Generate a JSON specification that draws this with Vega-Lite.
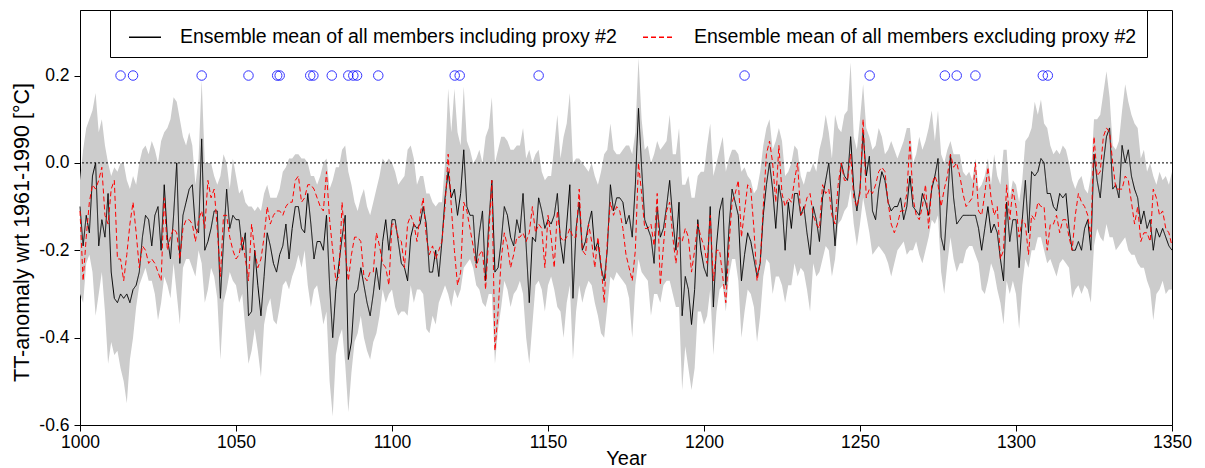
{
"$schema": "https://vega.github.io/schema/vega-lite/v6.json",
"width": 1092, "height": 415,
"autosize": {"type": "none"},
"padding": {"left": 80, "top": 10, "right": 33, "bottom": 43},
"background": "white",
"config": {
 "view": {"stroke": "black", "strokeWidth": 1},
 "font": "Liberation Sans",
 "axis": {"grid": false, "domainColor": "black", "tickColor": "black", "labelColor": "black", "titleColor": "black", "labelFont": "Liberation Sans", "titleFont": "Liberation Sans", "labelFontSize": 17.5, "titleFontSize": 19.5, "titleFontWeight": "normal", "tickSize": 6, "labelFlush": false, "labelOverlap": false},
 "legend": {"orient": "none", "legendX": 30, "legendY": 0, "direction": "horizontal", "strokeColor": "black", "fillColor": "white", "padding": 10, "symbolType": "stroke", "symbolSize": 1024, "symbolStrokeWidth": 1.3, "labelFont": "Liberation Sans", "labelFontSize": 19.5, "labelColor": "black", "labelOffset": 18, "columnPadding": 17, "labelLimit": 0, "symbolOffset": 8}
},
"datasets": {
"d": [
{"t":1000,"inc":-0.10,"exc":-0.11,"lo":-0.30,"hi":-0.04},
{"t":1001,"inc":-0.19,"exc":-0.27,"lo":-0.32,"hi":0.03},
{"t":1002,"inc":-0.12,"exc":-0.17,"lo":-0.23,"hi":0.08},
{"t":1003,"inc":-0.16,"exc":-0.09,"lo":-0.21,"hi":0.10},
{"t":1004,"inc":-0.03,"exc":-0.05,"lo":-0.25,"hi":0.12},
{"t":1005,"inc":0.00,"exc":-0.06,"lo":-0.35,"hi":0.16},
{"t":1006,"inc":-0.19,"exc":-0.04,"lo":-0.30,"hi":0.07},
{"t":1007,"inc":-0.13,"exc":-0.01,"lo":-0.25,"hi":0.10},
{"t":1008,"inc":-0.17,"exc":-0.12,"lo":-0.34,"hi":0.04},
{"t":1009,"inc":-0.07,"exc":-0.14,"lo":-0.46,"hi":0.00},
{"t":1010,"inc":-0.25,"exc":-0.06,"lo":-0.41,"hi":-0.03},
{"t":1011,"inc":-0.31,"exc":-0.04,"lo":-0.44,"hi":-0.01},
{"t":1012,"inc":-0.32,"exc":-0.22,"lo":-0.43,"hi":-0.02},
{"t":1013,"inc":-0.30,"exc":-0.22,"lo":-0.47,"hi":0.00},
{"t":1014,"inc":-0.31,"exc":-0.27,"lo":-0.50,"hi":0.00},
{"t":1015,"inc":-0.30,"exc":-0.21,"lo":-0.55,"hi":-0.04},
{"t":1016,"inc":-0.32,"exc":-0.14,"lo":-0.45,"hi":-0.06},
{"t":1017,"inc":-0.29,"exc":-0.09,"lo":-0.40,"hi":-0.03},
{"t":1018,"inc":-0.28,"exc":-0.16,"lo":-0.33,"hi":-0.05},
{"t":1019,"inc":-0.25,"exc":-0.24,"lo":-0.28,"hi":0.00},
{"t":1020,"inc":-0.17,"exc":-0.19,"lo":-0.26,"hi":0.03},
{"t":1021,"inc":-0.12,"exc":-0.20,"lo":-0.24,"hi":0.04},
{"t":1022,"inc":-0.13,"exc":-0.23,"lo":-0.27,"hi":0.02},
{"t":1023,"inc":-0.19,"exc":-0.22,"lo":-0.27,"hi":0.05},
{"t":1024,"inc":-0.12,"exc":-0.23,"lo":-0.30,"hi":0.03},
{"t":1025,"inc":-0.10,"exc":-0.25,"lo":-0.36,"hi":0.00},
{"t":1026,"inc":-0.20,"exc":-0.27,"lo":-0.32,"hi":0.05},
{"t":1027,"inc":-0.05,"exc":-0.08,"lo":-0.26,"hi":0.07},
{"t":1028,"inc":-0.17,"exc":-0.20,"lo":-0.28,"hi":0.08},
{"t":1029,"inc":-0.22,"exc":-0.17,"lo":-0.31,"hi":0.10},
{"t":1030,"inc":-0.12,"exc":-0.15,"lo":-0.23,"hi":0.15},
{"t":1031,"inc":0.00,"exc":-0.16,"lo":-0.30,"hi":0.14},
{"t":1032,"inc":-0.23,"exc":-0.22,"lo":-0.37,"hi":0.10},
{"t":1033,"inc":-0.12,"exc":-0.15,"lo":-0.24,"hi":0.06},
{"t":1034,"inc":-0.09,"exc":-0.13,"lo":-0.22,"hi":0.04},
{"t":1035,"inc":-0.06,"exc":-0.13,"lo":-0.22,"hi":0.07},
{"t":1036,"inc":-0.05,"exc":-0.14,"lo":-0.24,"hi":0.04},
{"t":1037,"inc":-0.15,"exc":-0.18,"lo":-0.26,"hi":-0.05},
{"t":1038,"inc":-0.16,"exc":-0.13,"lo":-0.20,"hi":0.01},
{"t":1039,"inc":0.055,"exc":-0.11,"lo":-0.23,"hi":0.19},
{"t":1040,"inc":-0.20,"exc":-0.15,"lo":-0.32,"hi":0.00},
{"t":1041,"inc":-0.18,"exc":-0.04,"lo":-0.29,"hi":0.00},
{"t":1042,"inc":-0.15,"exc":-0.08,"lo":-0.24,"hi":0.00},
{"t":1043,"inc":-0.11,"exc":-0.06,"lo":-0.26,"hi":-0.03},
{"t":1044,"inc":-0.11,"exc":-0.15,"lo":-0.31,"hi":-0.05},
{"t":1045,"inc":-0.31,"exc":-0.26,"lo":-0.45,"hi":-0.03},
{"t":1046,"inc":-0.18,"exc":-0.12,"lo":-0.32,"hi":0.02},
{"t":1047,"inc":-0.06,"exc":-0.12,"lo":-0.29,"hi":0.00},
{"t":1048,"inc":-0.15,"exc":-0.17,"lo":-0.25,"hi":-0.06},
{"t":1049,"inc":-0.12,"exc":-0.20,"lo":-0.27,"hi":0.01},
{"t":1050,"inc":-0.13,"exc":-0.22,"lo":-0.28,"hi":-0.03},
{"t":1051,"inc":-0.13,"exc":-0.21,"lo":-0.32,"hi":-0.07},
{"t":1052,"inc":-0.20,"exc":-0.17,"lo":-0.30,"hi":-0.06},
{"t":1053,"inc":-0.16,"exc":-0.22,"lo":-0.38,"hi":-0.09},
{"t":1054,"inc":-0.35,"exc":-0.27,"lo":-0.46,"hi":-0.10},
{"t":1055,"inc":-0.34,"exc":-0.14,"lo":-0.43,"hi":-0.10},
{"t":1056,"inc":-0.20,"exc":-0.20,"lo":-0.38,"hi":-0.11},
{"t":1057,"inc":-0.28,"exc":-0.24,"lo":-0.43,"hi":-0.10},
{"t":1058,"inc":-0.35,"exc":-0.22,"lo":-0.49,"hi":-0.11},
{"t":1059,"inc":-0.26,"exc":-0.17,"lo":-0.37,"hi":-0.07},
{"t":1060,"inc":-0.16,"exc":-0.10,"lo":-0.33,"hi":-0.05},
{"t":1061,"inc":-0.19,"exc":-0.14,"lo":-0.31,"hi":-0.08},
{"t":1062,"inc":-0.23,"exc":-0.12,"lo":-0.36,"hi":-0.08},
{"t":1063,"inc":-0.25,"exc":-0.11,"lo":-0.37,"hi":-0.08},
{"t":1064,"inc":-0.21,"exc":-0.11,"lo":-0.33,"hi":-0.06},
{"t":1065,"inc":-0.19,"exc":-0.12,"lo":-0.28,"hi":-0.02},
{"t":1066,"inc":-0.14,"exc":-0.10,"lo":-0.27,"hi":-0.01},
{"t":1067,"inc":-0.22,"exc":-0.09,"lo":-0.29,"hi":0.01},
{"t":1068,"inc":-0.15,"exc":-0.09,"lo":-0.26,"hi":0.01},
{"t":1069,"inc":-0.10,"exc":-0.04,"lo":-0.24,"hi":0.02},
{"t":1070,"inc":-0.10,"exc":-0.03,"lo":-0.21,"hi":0.02},
{"t":1071,"inc":-0.15,"exc":-0.09,"lo":-0.24,"hi":0.01},
{"t":1072,"inc":-0.16,"exc":-0.08,"lo":-0.20,"hi":0.01},
{"t":1073,"inc":-0.07,"exc":-0.05,"lo":-0.28,"hi":0.00},
{"t":1074,"inc":-0.14,"exc":-0.05,"lo":-0.33,"hi":-0.03},
{"t":1075,"inc":-0.22,"exc":-0.06,"lo":-0.29,"hi":-0.03},
{"t":1076,"inc":-0.18,"exc":-0.08,"lo":-0.28,"hi":-0.05},
{"t":1077,"inc":-0.18,"exc":-0.10,"lo":-0.32,"hi":-0.03},
{"t":1078,"inc":-0.20,"exc":-0.11,"lo":-0.37,"hi":0.00},
{"t":1079,"inc":-0.12,"exc":-0.02,"lo":-0.34,"hi":0.01},
{"t":1080,"inc":-0.28,"exc":-0.13,"lo":-0.50,"hi":-0.06},
{"t":1081,"inc":-0.40,"exc":-0.20,"lo":-0.58,"hi":-0.04},
{"t":1082,"inc":-0.29,"exc":-0.27,"lo":-0.44,"hi":-0.01},
{"t":1083,"inc":-0.23,"exc":-0.26,"lo":-0.40,"hi":-0.01},
{"t":1084,"inc":-0.17,"exc":-0.09,"lo":-0.38,"hi":0.03},
{"t":1085,"inc":-0.12,"exc":-0.20,"lo":-0.46,"hi":0.04},
{"t":1086,"inc":-0.45,"exc":-0.27,"lo":-0.57,"hi":-0.02},
{"t":1087,"inc":-0.41,"exc":-0.21,"lo":-0.48,"hi":-0.05},
{"t":1088,"inc":-0.30,"exc":-0.17,"lo":-0.41,"hi":-0.09},
{"t":1089,"inc":-0.29,"exc":-0.17,"lo":-0.39,"hi":-0.11},
{"t":1090,"inc":-0.24,"exc":-0.18,"lo":-0.35,"hi":-0.08},
{"t":1091,"inc":-0.28,"exc":-0.26,"lo":-0.40,"hi":-0.06},
{"t":1092,"inc":-0.32,"exc":-0.27,"lo":-0.43,"hi":-0.10},
{"t":1093,"inc":-0.35,"exc":-0.25,"lo":-0.45,"hi":-0.12},
{"t":1094,"inc":-0.30,"exc":-0.25,"lo":-0.41,"hi":-0.09},
{"t":1095,"inc":-0.24,"exc":-0.16,"lo":-0.39,"hi":-0.06},
{"t":1096,"inc":-0.29,"exc":-0.19,"lo":-0.35,"hi":-0.03},
{"t":1097,"inc":-0.18,"exc":-0.23,"lo":-0.29,"hi":0.01},
{"t":1098,"inc":-0.13,"exc":-0.24,"lo":-0.32,"hi":0.00},
{"t":1099,"inc":-0.20,"exc":-0.28,"lo":-0.30,"hi":0.01},
{"t":1100,"inc":-0.13,"exc":-0.14,"lo":-0.29,"hi":0.00},
{"t":1101,"inc":-0.13,"exc":-0.14,"lo":-0.33,"hi":-0.02},
{"t":1102,"inc":-0.18,"exc":-0.17,"lo":-0.35,"hi":-0.05},
{"t":1103,"inc":-0.23,"exc":-0.18,"lo":-0.34,"hi":-0.04},
{"t":1104,"inc":-0.24,"exc":-0.24,"lo":-0.34,"hi":-0.03},
{"t":1105,"inc":-0.27,"exc":-0.14,"lo":-0.35,"hi":0.03},
{"t":1106,"inc":-0.17,"exc":-0.12,"lo":-0.28,"hi":0.04},
{"t":1107,"inc":-0.14,"exc":-0.14,"lo":-0.32,"hi":0.01},
{"t":1108,"inc":-0.15,"exc":-0.18,"lo":-0.29,"hi":-0.05},
{"t":1109,"inc":-0.14,"exc":-0.12,"lo":-0.29,"hi":-0.03},
{"t":1110,"inc":-0.10,"exc":-0.08,"lo":-0.30,"hi":-0.03},
{"t":1111,"inc":-0.14,"exc":-0.17,"lo":-0.38,"hi":-0.07},
{"t":1112,"inc":-0.25,"exc":-0.21,"lo":-0.39,"hi":-0.07},
{"t":1113,"inc":-0.25,"exc":-0.19,"lo":-0.35,"hi":-0.09},
{"t":1114,"inc":-0.20,"exc":-0.22,"lo":-0.37,"hi":-0.10},
{"t":1115,"inc":-0.26,"exc":-0.20,"lo":-0.32,"hi":-0.09},
{"t":1116,"inc":-0.18,"exc":-0.18,"lo":-0.30,"hi":-0.09},
{"t":1117,"inc":-0.08,"exc":-0.10,"lo":-0.28,"hi":0.00},
{"t":1118,"inc":-0.02,"exc":0.02,"lo":-0.30,"hi":0.17},
{"t":1119,"inc":-0.08,"exc":-0.10,"lo":-0.33,"hi":0.07},
{"t":1120,"inc":-0.06,"exc":-0.20,"lo":-0.29,"hi":0.17},
{"t":1121,"inc":-0.12,"exc":-0.28,"lo":-0.31,"hi":0.07},
{"t":1122,"inc":-0.07,"exc":-0.25,"lo":-0.29,"hi":0.04},
{"t":1123,"inc":0.03,"exc":-0.09,"lo":-0.24,"hi":0.175},
{"t":1124,"inc":-0.10,"exc":-0.11,"lo":-0.23,"hi":0.05},
{"t":1125,"inc":-0.12,"exc":-0.15,"lo":-0.22,"hi":0.03},
{"t":1126,"inc":-0.12,"exc":-0.19,"lo":-0.24,"hi":0.00},
{"t":1127,"inc":-0.23,"exc":-0.24,"lo":-0.28,"hi":0.01},
{"t":1128,"inc":-0.16,"exc":-0.21,"lo":-0.29,"hi":0.03},
{"t":1129,"inc":-0.11,"exc":-0.20,"lo":-0.32,"hi":0.00},
{"t":1130,"inc":-0.27,"exc":-0.29,"lo":-0.33,"hi":0.06},
{"t":1131,"inc":-0.14,"exc":-0.17,"lo":-0.30,"hi":0.08},
{"t":1132,"inc":-0.04,"exc":-0.04,"lo":-0.30,"hi":0.15},
{"t":1133,"inc":-0.25,"exc":-0.43,"lo":-0.46,"hi":0.00},
{"t":1134,"inc":-0.24,"exc":-0.34,"lo":-0.38,"hi":0.03},
{"t":1135,"inc":-0.18,"exc":-0.22,"lo":-0.33,"hi":0.06},
{"t":1136,"inc":-0.10,"exc":-0.16,"lo":-0.27,"hi":0.06},
{"t":1137,"inc":-0.12,"exc":-0.19,"lo":-0.29,"hi":0.05},
{"t":1138,"inc":-0.17,"exc":-0.24,"lo":-0.33,"hi":0.03},
{"t":1139,"inc":-0.19,"exc":-0.21,"lo":-0.30,"hi":0.03},
{"t":1140,"inc":-0.13,"exc":-0.17,"lo":-0.29,"hi":0.04},
{"t":1141,"inc":-0.16,"exc":-0.17,"lo":-0.27,"hi":0.04},
{"t":1142,"inc":-0.07,"exc":-0.16,"lo":-0.30,"hi":0.08},
{"t":1143,"inc":-0.19,"exc":-0.18,"lo":-0.40,"hi":0.01},
{"t":1144,"inc":-0.32,"exc":-0.16,"lo":-0.46,"hi":0.03},
{"t":1145,"inc":-0.17,"exc":-0.10,"lo":-0.37,"hi":0.00},
{"t":1146,"inc":-0.18,"exc":-0.16,"lo":-0.28,"hi":0.02},
{"t":1147,"inc":-0.08,"exc":-0.14,"lo":-0.27,"hi":0.03},
{"t":1148,"inc":-0.11,"exc":-0.15,"lo":-0.29,"hi":-0.02},
{"t":1149,"inc":-0.15,"exc":-0.24,"lo":-0.34,"hi":-0.04},
{"t":1150,"inc":-0.13,"exc":-0.12,"lo":-0.28,"hi":-0.03},
{"t":1151,"inc":-0.14,"exc":-0.17,"lo":-0.26,"hi":-0.03},
{"t":1152,"inc":-0.12,"exc":-0.24,"lo":-0.29,"hi":0.04},
{"t":1153,"inc":-0.07,"exc":-0.11,"lo":-0.33,"hi":0.11},
{"t":1154,"inc":-0.18,"exc":-0.17,"lo":-0.34,"hi":0.01},
{"t":1155,"inc":-0.23,"exc":-0.18,"lo":-0.40,"hi":0.06},
{"t":1156,"inc":-0.14,"exc":-0.17,"lo":-0.32,"hi":0.09},
{"t":1157,"inc":-0.05,"exc":-0.15,"lo":-0.28,"hi":0.16},
{"t":1158,"inc":-0.31,"exc":-0.17,"lo":-0.45,"hi":0.00},
{"t":1159,"inc":-0.15,"exc":-0.17,"lo":-0.34,"hi":0.01},
{"t":1160,"inc":-0.09,"exc":-0.06,"lo":-0.28,"hi":0.01},
{"t":1161,"inc":-0.20,"exc":-0.20,"lo":-0.32,"hi":0.00},
{"t":1162,"inc":-0.18,"exc":-0.21,"lo":-0.29,"hi":-0.01},
{"t":1163,"inc":-0.14,"exc":-0.14,"lo":-0.27,"hi":-0.02},
{"t":1164,"inc":-0.11,"exc":-0.18,"lo":-0.28,"hi":0.00},
{"t":1165,"inc":-0.20,"exc":-0.24,"lo":-0.32,"hi":-0.03},
{"t":1166,"inc":-0.18,"exc":-0.17,"lo":-0.35,"hi":-0.05},
{"t":1167,"inc":-0.24,"exc":-0.23,"lo":-0.39,"hi":-0.02},
{"t":1168,"inc":-0.27,"exc":-0.32,"lo":-0.40,"hi":0.02},
{"t":1169,"inc":-0.20,"exc":-0.18,"lo":-0.33,"hi":0.03},
{"t":1170,"inc":-0.05,"exc":-0.09,"lo":-0.26,"hi":0.09},
{"t":1171,"inc":-0.11,"exc":-0.12,"lo":-0.27,"hi":0.03},
{"t":1172,"inc":-0.08,"exc":-0.10,"lo":-0.25,"hi":0.02},
{"t":1173,"inc":-0.08,"exc":-0.11,"lo":-0.26,"hi":0.02},
{"t":1174,"inc":-0.09,"exc":-0.15,"lo":-0.27,"hi":0.03},
{"t":1175,"inc":-0.14,"exc":-0.21,"lo":-0.28,"hi":0.04},
{"t":1176,"inc":-0.12,"exc":-0.24,"lo":-0.31,"hi":0.04},
{"t":1177,"inc":-0.17,"exc":-0.27,"lo":-0.40,"hi":0.02},
{"t":1178,"inc":-0.05,"exc":-0.20,"lo":-0.28,"hi":0.07},
{"t":1179,"inc":0.125,"exc":0.00,"lo":-0.22,"hi":0.24},
{"t":1180,"inc":-0.01,"exc":-0.07,"lo":-0.25,"hi":0.10},
{"t":1181,"inc":-0.13,"exc":-0.15,"lo":-0.26,"hi":0.03},
{"t":1182,"inc":-0.15,"exc":-0.15,"lo":-0.27,"hi":0.04},
{"t":1183,"inc":-0.17,"exc":-0.14,"lo":-0.35,"hi":0.00},
{"t":1184,"inc":-0.23,"exc":-0.19,"lo":-0.30,"hi":0.02},
{"t":1185,"inc":-0.10,"exc":-0.07,"lo":-0.30,"hi":0.05},
{"t":1186,"inc":-0.17,"exc":-0.28,"lo":-0.32,"hi":0.03},
{"t":1187,"inc":-0.15,"exc":-0.19,"lo":-0.28,"hi":0.04},
{"t":1188,"inc":-0.10,"exc":-0.11,"lo":-0.27,"hi":0.05},
{"t":1189,"inc":-0.04,"exc":-0.09,"lo":-0.27,"hi":0.11},
{"t":1190,"inc":-0.13,"exc":-0.17,"lo":-0.30,"hi":0.02},
{"t":1191,"inc":-0.20,"exc":-0.23,"lo":-0.33,"hi":0.02},
{"t":1192,"inc":-0.09,"exc":-0.17,"lo":-0.33,"hi":0.08},
{"t":1193,"inc":-0.35,"exc":-0.18,"lo":-0.52,"hi":-0.05},
{"t":1194,"inc":-0.26,"exc":-0.15,"lo":-0.42,"hi":-0.05},
{"t":1195,"inc":-0.29,"exc":-0.17,"lo":-0.47,"hi":-0.03},
{"t":1196,"inc":-0.37,"exc":-0.25,"lo":-0.52,"hi":-0.08},
{"t":1197,"inc":-0.29,"exc":-0.20,"lo":-0.47,"hi":-0.08},
{"t":1198,"inc":-0.13,"exc":-0.14,"lo":-0.34,"hi":-0.03},
{"t":1199,"inc":-0.20,"exc":-0.17,"lo":-0.34,"hi":-0.02},
{"t":1200,"inc":-0.24,"exc":-0.19,"lo":-0.37,"hi":-0.02},
{"t":1201,"inc":-0.26,"exc":-0.23,"lo":-0.35,"hi":0.04},
{"t":1202,"inc":-0.10,"exc":-0.12,"lo":-0.29,"hi":0.09},
{"t":1203,"inc":-0.33,"exc":-0.27,"lo":-0.44,"hi":-0.03},
{"t":1204,"inc":-0.19,"exc":-0.20,"lo":-0.34,"hi":0.00},
{"t":1205,"inc":-0.11,"exc":-0.20,"lo":-0.29,"hi":0.03},
{"t":1206,"inc":-0.08,"exc":-0.26,"lo":-0.28,"hi":0.06},
{"t":1207,"inc":-0.28,"exc":-0.32,"lo":-0.34,"hi":-0.02},
{"t":1208,"inc":-0.15,"exc":-0.19,"lo":-0.26,"hi":0.01},
{"t":1209,"inc":-0.06,"exc":-0.09,"lo":-0.22,"hi":0.03},
{"t":1210,"inc":-0.09,"exc":-0.07,"lo":-0.22,"hi":0.03},
{"t":1211,"inc":-0.12,"exc":-0.04,"lo":-0.27,"hi":0.02},
{"t":1212,"inc":-0.27,"exc":-0.17,"lo":-0.40,"hi":-0.02},
{"t":1213,"inc":-0.21,"exc":-0.11,"lo":-0.34,"hi":-0.01},
{"t":1214,"inc":-0.16,"exc":-0.05,"lo":-0.29,"hi":-0.03},
{"t":1215,"inc":-0.18,"exc":-0.06,"lo":-0.30,"hi":-0.04},
{"t":1216,"inc":-0.22,"exc":-0.15,"lo":-0.33,"hi":-0.07},
{"t":1217,"inc":-0.26,"exc":-0.27,"lo":-0.41,"hi":-0.06},
{"t":1218,"inc":-0.23,"exc":-0.23,"lo":-0.35,"hi":-0.02},
{"t":1219,"inc":-0.12,"exc":-0.10,"lo":-0.26,"hi":0.04},
{"t":1220,"inc":-0.05,"exc":0.02,"lo":-0.22,"hi":0.08},
{"t":1221,"inc":0.00,"exc":0.05,"lo":-0.23,"hi":0.10},
{"t":1222,"inc":-0.06,"exc":0.00,"lo":-0.30,"hi":0.03},
{"t":1223,"inc":-0.15,"exc":-0.09,"lo":-0.26,"hi":0.05},
{"t":1224,"inc":-0.05,"exc":0.04,"lo":-0.26,"hi":0.08},
{"t":1225,"inc":-0.09,"exc":-0.07,"lo":-0.28,"hi":0.05},
{"t":1226,"inc":-0.20,"exc":-0.10,"lo":-0.32,"hi":-0.03},
{"t":1227,"inc":-0.09,"exc":-0.08,"lo":-0.28,"hi":-0.02},
{"t":1228,"inc":-0.15,"exc":-0.09,"lo":-0.28,"hi":0.00},
{"t":1229,"inc":-0.07,"exc":-0.04,"lo":-0.23,"hi":0.04},
{"t":1230,"inc":-0.07,"exc":0.00,"lo":-0.26,"hi":0.03},
{"t":1231,"inc":-0.12,"exc":-0.12,"lo":-0.24,"hi":-0.03},
{"t":1232,"inc":-0.10,"exc":-0.11,"lo":-0.25,"hi":-0.05},
{"t":1233,"inc":-0.16,"exc":-0.08,"lo":-0.29,"hi":-0.02},
{"t":1234,"inc":-0.21,"exc":-0.07,"lo":-0.34,"hi":-0.02},
{"t":1235,"inc":-0.10,"exc":-0.12,"lo":-0.23,"hi":0.00},
{"t":1236,"inc":-0.13,"exc":-0.14,"lo":-0.26,"hi":-0.02},
{"t":1237,"inc":-0.18,"exc":-0.15,"lo":-0.25,"hi":0.03},
{"t":1238,"inc":-0.08,"exc":-0.05,"lo":-0.22,"hi":0.06},
{"t":1239,"inc":-0.04,"exc":-0.07,"lo":-0.19,"hi":0.11},
{"t":1240,"inc":0.00,"exc":-0.06,"lo":-0.20,"hi":0.07},
{"t":1241,"inc":-0.09,"exc":-0.12,"lo":-0.26,"hi":0.01},
{"t":1242,"inc":-0.19,"exc":-0.14,"lo":-0.22,"hi":0.11},
{"t":1243,"inc":-0.10,"exc":-0.05,"lo":-0.14,"hi":0.08},
{"t":1244,"inc":0.00,"exc":0.00,"lo":-0.13,"hi":0.07},
{"t":1245,"inc":-0.03,"exc":-0.04,"lo":-0.11,"hi":0.11},
{"t":1246,"inc":-0.04,"exc":-0.04,"lo":-0.10,"hi":0.12},
{"t":1247,"inc":0.06,"exc":0.02,"lo":-0.06,"hi":0.23},
{"t":1248,"inc":-0.06,"exc":-0.08,"lo":-0.14,"hi":0.06},
{"t":1249,"inc":-0.11,"exc":-0.10,"lo":-0.19,"hi":0.03},
{"t":1250,"inc":-0.06,"exc":-0.07,"lo":-0.14,"hi":0.10},
{"t":1251,"inc":0.07,"exc":0.10,"lo":-0.08,"hi":0.18},
{"t":1252,"inc":-0.03,"exc":-0.08,"lo":-0.12,"hi":0.08},
{"t":1253,"inc":0.015,"exc":-0.06,"lo":-0.16,"hi":0.06},
{"t":1254,"inc":-0.11,"exc":-0.07,"lo":-0.21,"hi":0.03},
{"t":1255,"inc":-0.13,"exc":-0.05,"lo":-0.20,"hi":0.04},
{"t":1256,"inc":-0.06,"exc":-0.02,"lo":-0.19,"hi":0.08},
{"t":1257,"inc":-0.02,"exc":-0.01,"lo":-0.20,"hi":0.06},
{"t":1258,"inc":-0.04,"exc":-0.02,"lo":-0.21,"hi":0.02},
{"t":1259,"inc":-0.09,"exc":-0.09,"lo":-0.23,"hi":0.03},
{"t":1260,"inc":-0.11,"exc":-0.14,"lo":-0.26,"hi":0.05},
{"t":1261,"inc":-0.10,"exc":-0.16,"lo":-0.23,"hi":0.03},
{"t":1262,"inc":-0.10,"exc":-0.14,"lo":-0.20,"hi":0.01},
{"t":1263,"inc":-0.08,"exc":-0.11,"lo":-0.19,"hi":0.03},
{"t":1264,"inc":-0.13,"exc":-0.11,"lo":-0.18,"hi":0.05},
{"t":1265,"inc":-0.10,"exc":-0.07,"lo":-0.21,"hi":0.08},
{"t":1266,"inc":-0.03,"exc":0.05,"lo":-0.20,"hi":0.08},
{"t":1267,"inc":-0.10,"exc":-0.08,"lo":-0.20,"hi":0.00},
{"t":1268,"inc":-0.11,"exc":-0.12,"lo":-0.18,"hi":0.02},
{"t":1269,"inc":-0.12,"exc":-0.13,"lo":-0.21,"hi":0.06},
{"t":1270,"inc":-0.07,"exc":-0.10,"lo":-0.23,"hi":0.03},
{"t":1271,"inc":-0.09,"exc":-0.05,"lo":-0.20,"hi":0.05},
{"t":1272,"inc":-0.12,"exc":-0.15,"lo":-0.17,"hi":0.08},
{"t":1273,"inc":-0.06,"exc":-0.05,"lo":-0.13,"hi":0.12},
{"t":1274,"inc":-0.03,"exc":-0.03,"lo":-0.14,"hi":0.05},
{"t":1275,"inc":0.01,"exc":-0.05,"lo":-0.12,"hi":0.12},
{"t":1276,"inc":-0.17,"exc":-0.10,"lo":-0.25,"hi":0.02},
{"t":1277,"inc":-0.20,"exc":-0.06,"lo":-0.30,"hi":0.00},
{"t":1278,"inc":-0.09,"exc":-0.03,"lo":-0.23,"hi":0.03},
{"t":1279,"inc":0.02,"exc":0.02,"lo":-0.17,"hi":0.05},
{"t":1280,"inc":-0.08,"exc":-0.01,"lo":-0.22,"hi":0.02},
{"t":1281,"inc":-0.14,"exc":0.00,"lo":-0.25,"hi":0.02},
{"t":1282,"inc":-0.13,"exc":-0.03,"lo":-0.23,"hi":0.02},
{"t":1283,"inc":-0.12,"exc":-0.07,"lo":-0.23,"hi":-0.02},
{"t":1284,"inc":-0.12,"exc":-0.10,"lo":-0.20,"hi":-0.03},
{"t":1285,"inc":-0.12,"exc":-0.09,"lo":-0.19,"hi":-0.02},
{"t":1286,"inc":-0.12,"exc":-0.08,"lo":-0.19,"hi":-0.04},
{"t":1287,"inc":-0.12,"exc":0.00,"lo":-0.21,"hi":0.01},
{"t":1288,"inc":-0.15,"exc":-0.11,"lo":-0.23,"hi":-0.06},
{"t":1289,"inc":-0.20,"exc":-0.12,"lo":-0.29,"hi":-0.05},
{"t":1290,"inc":-0.15,"exc":-0.07,"lo":-0.30,"hi":-0.03},
{"t":1291,"inc":-0.10,"exc":-0.01,"lo":-0.27,"hi":0.01},
{"t":1292,"inc":-0.16,"exc":-0.08,"lo":-0.23,"hi":-0.05},
{"t":1293,"inc":-0.14,"exc":-0.12,"lo":-0.25,"hi":0.02},
{"t":1294,"inc":-0.16,"exc":-0.10,"lo":-0.29,"hi":-0.03},
{"t":1295,"inc":-0.22,"exc":-0.22,"lo":-0.32,"hi":-0.05},
{"t":1296,"inc":-0.27,"exc":-0.20,"lo":-0.37,"hi":0.03},
{"t":1297,"inc":-0.09,"exc":-0.05,"lo":-0.27,"hi":0.03},
{"t":1298,"inc":-0.18,"exc":-0.13,"lo":-0.30,"hi":-0.08},
{"t":1299,"inc":-0.13,"exc":-0.06,"lo":-0.27,"hi":-0.04},
{"t":1300,"inc":-0.13,"exc":-0.10,"lo":-0.30,"hi":-0.05},
{"t":1301,"inc":-0.24,"exc":-0.17,"lo":-0.38,"hi":-0.09},
{"t":1302,"inc":-0.13,"exc":-0.13,"lo":-0.28,"hi":-0.04},
{"t":1303,"inc":-0.04,"exc":-0.14,"lo":-0.22,"hi":0.05},
{"t":1304,"inc":-0.16,"exc":-0.21,"lo":-0.24,"hi":0.06},
{"t":1305,"inc":-0.02,"exc":-0.12,"lo":-0.20,"hi":0.08},
{"t":1306,"inc":-0.03,"exc":-0.13,"lo":-0.20,"hi":0.14},
{"t":1307,"inc":-0.02,"exc":-0.09,"lo":-0.17,"hi":0.11},
{"t":1308,"inc":0.01,"exc":-0.10,"lo":-0.17,"hi":0.145},
{"t":1309,"inc":0.00,"exc":-0.10,"lo":-0.20,"hi":0.09},
{"t":1310,"inc":-0.07,"exc":-0.20,"lo":-0.23,"hi":0.08},
{"t":1311,"inc":-0.07,"exc":-0.14,"lo":-0.22,"hi":0.04},
{"t":1312,"inc":-0.10,"exc":-0.14,"lo":-0.24,"hi":0.02},
{"t":1313,"inc":-0.11,"exc":-0.12,"lo":-0.26,"hi":0.03},
{"t":1314,"inc":-0.07,"exc":-0.16,"lo":-0.23,"hi":0.02},
{"t":1315,"inc":-0.08,"exc":-0.13,"lo":-0.22,"hi":0.04},
{"t":1316,"inc":-0.07,"exc":-0.13,"lo":-0.23,"hi":0.03},
{"t":1317,"inc":-0.15,"exc":-0.17,"lo":-0.24,"hi":0.00},
{"t":1318,"inc":-0.20,"exc":-0.20,"lo":-0.31,"hi":-0.04},
{"t":1319,"inc":-0.20,"exc":-0.12,"lo":-0.29,"hi":-0.06},
{"t":1320,"inc":-0.18,"exc":-0.07,"lo":-0.28,"hi":-0.04},
{"t":1321,"inc":-0.20,"exc":-0.09,"lo":-0.30,"hi":-0.03},
{"t":1322,"inc":-0.15,"exc":-0.10,"lo":-0.28,"hi":-0.06},
{"t":1323,"inc":-0.13,"exc":-0.12,"lo":-0.29,"hi":-0.07},
{"t":1324,"inc":-0.20,"exc":-0.17,"lo":-0.32,"hi":-0.03},
{"t":1325,"inc":0.02,"exc":0.06,"lo":-0.19,"hi":0.10},
{"t":1326,"inc":-0.04,"exc":-0.03,"lo":-0.15,"hi":0.10},
{"t":1327,"inc":-0.08,"exc":-0.02,"lo":-0.17,"hi":0.11},
{"t":1328,"inc":0.00,"exc":0.06,"lo":-0.18,"hi":0.16},
{"t":1329,"inc":0.06,"exc":0.08,"lo":-0.14,"hi":0.21},
{"t":1330,"inc":0.08,"exc":0.07,"lo":-0.17,"hi":0.15},
{"t":1331,"inc":-0.06,"exc":0.00,"lo":-0.17,"hi":0.04},
{"t":1332,"inc":-0.05,"exc":-0.06,"lo":-0.20,"hi":0.03},
{"t":1333,"inc":-0.08,"exc":-0.06,"lo":-0.19,"hi":0.05},
{"t":1334,"inc":0.04,"exc":-0.06,"lo":-0.18,"hi":0.12},
{"t":1335,"inc":0.00,"exc":-0.03,"lo":-0.17,"hi":0.18},
{"t":1336,"inc":0.03,"exc":-0.04,"lo":-0.20,"hi":0.14},
{"t":1337,"inc":-0.03,"exc":-0.09,"lo":-0.21,"hi":0.11},
{"t":1338,"inc":-0.06,"exc":-0.14,"lo":-0.21,"hi":0.09},
{"t":1339,"inc":-0.08,"exc":-0.10,"lo":-0.23,"hi":0.08},
{"t":1340,"inc":-0.14,"exc":-0.18,"lo":-0.24,"hi":0.01},
{"t":1341,"inc":-0.11,"exc":-0.16,"lo":-0.24,"hi":0.03},
{"t":1342,"inc":-0.15,"exc":-0.16,"lo":-0.27,"hi":-0.02},
{"t":1343,"inc":-0.13,"exc":-0.18,"lo":-0.29,"hi":0.00},
{"t":1344,"inc":-0.20,"exc":-0.06,"lo":-0.36,"hi":-0.03},
{"t":1345,"inc":-0.15,"exc":-0.08,"lo":-0.30,"hi":-0.05},
{"t":1346,"inc":-0.17,"exc":-0.12,"lo":-0.29,"hi":-0.02},
{"t":1347,"inc":-0.15,"exc":-0.11,"lo":-0.27,"hi":-0.04},
{"t":1348,"inc":-0.17,"exc":-0.15,"lo":-0.30,"hi":-0.03},
{"t":1349,"inc":-0.19,"exc":-0.16,"lo":-0.29,"hi":-0.05},
{"t":1350,"inc":-0.20,"exc":-0.19,"lo":-0.29,"hi":-0.02}
],
"p": [
{"t":1013,"v":0.2},{"t":1017,"v":0.2},{"t":1039,"v":0.2},{"t":1054,"v":0.2},{"t":1063.2,"v":0.2},{"t":1064,"v":0.2},{"t":1073.8,"v":0.2},{"t":1074.8,"v":0.2},{"t":1080.7,"v":0.2},{"t":1086,"v":0.2},{"t":1087.6,"v":0.2},{"t":1088.8,"v":0.2},{"t":1095.6,"v":0.2},{"t":1120.1,"v":0.2},{"t":1121.7,"v":0.2},{"t":1147,"v":0.2},{"t":1213,"v":0.2},{"t":1253.1,"v":0.2},{"t":1277.2,"v":0.2},{"t":1281,"v":0.2},{"t":1287,"v":0.2},{"t":1308.6,"v":0.2},{"t":1310.2,"v":0.2}
],
"z": [{"v": 0}]
},
"layer": [
{
 "data": {"name": "d"},
 "mark": {"type": "area", "color": "#cccccc", "opacity": 1, "interpolate": "linear"},
 "encoding": {
  "x": {"field": "t", "type": "quantitative", "scale": {"domain": [1000, 1350], "nice": false, "zero": false},
   "axis": {"title": "Year", "values": [1000,1050,1100,1150,1200,1250,1300,1350], "format": "d", "labelPadding": 2, "titlePadding": -2, "titleFontSize": 20}},
  "y": {"field": "lo", "type": "quantitative", "scale": {"domain": [-0.6, 0.35], "nice": false, "zero": false},
   "axis": {"title": "TT-anomaly wrt 1961-1990 [°C]", "values": [-0.6,-0.4,-0.2,0,0.2], "labelExpr": "replace(format(datum.value, '.1f'), '\u2212', '-')", "labelPadding": 5, "titlePadding": 5, "titleFontSize": 21.5, "titleY": 222}},
  "y2": {"field": "hi"}
 }
},
{
 "data": {"name": "z"},
 "mark": {"type": "rule", "color": "black", "strokeWidth": 1, "strokeDash": [2, 2]},
 "encoding": {"y": {"field": "v", "type": "quantitative"}}
},
{
 "data": {"name": "d"},
 "transform": [{"fold": ["inc", "exc"], "as": ["series", "value"]}],
 "mark": {"type": "line", "strokeWidth": 1},
 "encoding": {
  "x": {"field": "t", "type": "quantitative"},
  "y": {"field": "value", "type": "quantitative"},
  "color": {"field": "series", "type": "nominal", "scale": {"domain": ["inc", "exc"], "range": ["#000000", "#ff0000"]},
   "legend": {"title": null, "labelExpr": "datum.label == 'inc' ? 'Ensemble mean of all members including proxy #2' : 'Ensemble mean of all members excluding proxy #2'"}},
  "strokeDash": {"field": "series", "type": "nominal", "scale": {"domain": ["inc", "exc"], "range": [[1, 0], [5, 3]]},
   "legend": {"title": null, "labelExpr": "datum.label == 'inc' ? 'Ensemble mean of all members including proxy #2' : 'Ensemble mean of all members excluding proxy #2'"}}
 }
},
{
 "data": {"name": "p"},
 "mark": {"type": "point", "shape": "circle", "filled": false, "color": "#0000ff", "size": 90, "strokeWidth": 1, "opacity": 0.8},
 "encoding": {
  "x": {"field": "t", "type": "quantitative"},
  "y": {"field": "v", "type": "quantitative"}
 }
}
]
}
